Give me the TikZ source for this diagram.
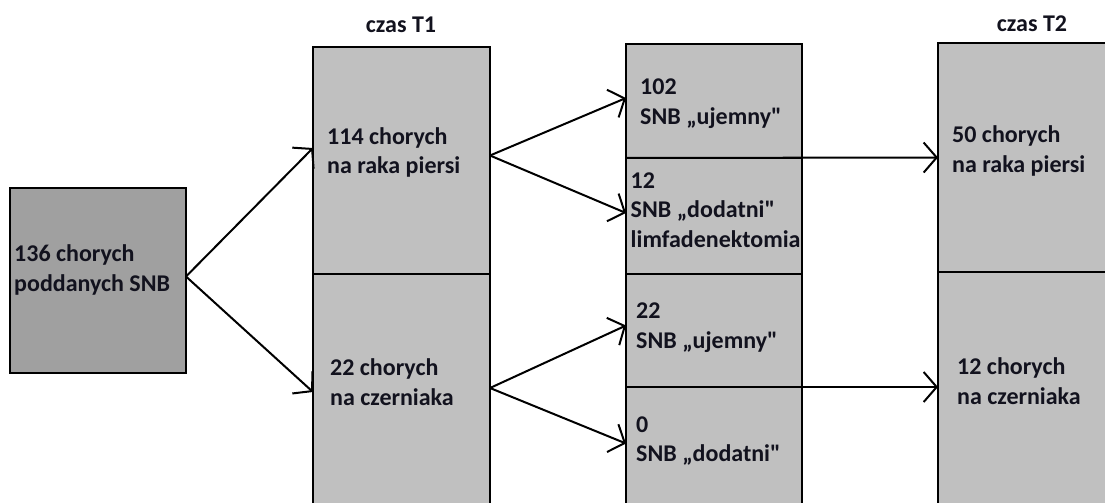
\documentclass[tikz,border=0pt]{standalone}
\usepackage{fontspec}
\setmainfont{Carlito}[Ligatures=TeXOff]
\usetikzlibrary{arrows.meta}
\definecolor{darkbox}{RGB}{160,160,160}
\definecolor{lightbox}{RGB}{192,192,192}
\definecolor{textcol}{RGB}{18,18,30}
\begin{document}
\begin{tikzpicture}[x=1pt,y=-1pt,
  box/.style={draw=black,line width=2pt,fill=lightbox,inner sep=0pt,outer sep=0pt},
  txt/.style={anchor=west,align=left,inner sep=0pt,text=textcol,font=\bfseries\fontsize{24}{29.5}\selectfont},
  ttl/.style={anchor=base,inner sep=0pt,text=textcol,font=\bfseries\fontsize{24}{29}\selectfont},
  arr/.style={line width=2pt,-{Straight Barb[length=13pt,width=30pt,line width=2pt]}}]
\useasboundingbox (0,0) rectangle (1105,503);
\fill[white] (0,0) rectangle (1105,503);
\clip (0,0) rectangle (1105,503);
% boxes
\node[box,fill=darkbox,minimum width=176pt,minimum height=185pt] (A) at (98,280.5) {};
\node[box,minimum width=177pt,minimum height=227pt] (T1a) at (401.5,160.5) {};
\node[box,minimum width=177pt,minimum height=236pt] (T1b) at (401.5,392) {};
\node[box,minimum width=176pt,minimum height=114pt] (M1) at (714,101) {};
\node[box,minimum width=176pt,minimum height=116pt] (M2) at (714,216) {};
\node[box,minimum width=176pt,minimum height=113pt] (M3) at (714,330.5) {};
\node[box,minimum width=176pt,minimum height=123pt] (M4) at (714,448.5) {};
\node[box,minimum width=172pt,minimum height=229pt] (R1) at (1024,157.5) {};
\node[box,minimum width=172pt,minimum height=238pt] (R2) at (1024,391) {};
% titles
\node[ttl] (tT1) at (401,33) {czas T1};
\node[ttl] (tT2) at (1032,32) {czas T2};
% texts
\node[txt] (tA) at (14,270) {136 chorych\\poddanych SNB};
\node[txt] (tT1a) at (327,152.5) {114 chorych\\na raka piersi};
\node[txt] (tT1b) at (330,382) {22 chorych\\na czerniaka};
\node[txt] (tM1) at (640,103.5) {102\\SNB „ujemny"};
\node[txt] (tM2) at (630.5,210) {12\\SNB „dodatni"\\limfadenektomia};
\node[txt] (tM3) at (636,327.5) {22\\SNB „ujemny"};
\node[txt] (tM4) at (636,441) {0\\SNB „dodatni"};
\node[txt] (tR1) at (952,151) {50 chorych\\na raka piersi};
\node[txt] (tR2) at (957,381) {12 chorych\\na czerniaka};
% connectors
\draw[arr] ([yshift=4pt]A.east) -- ([yshift=12.5pt]T1a.west);
\draw[arr] ([yshift=4pt]A.east) -- (T1b.west);
\draw[arr] ([yshift=5pt]T1a.east) -- ([yshift=3pt]M1.west);
\draw[arr] ([yshift=5pt]T1a.east) -- ([yshift=3pt]M2.west);
\draw[arr] ([yshift=4pt]T1b.east) -- ([yshift=5pt]M3.west);
\draw[arr] ([yshift=4pt]T1b.east) -- ([yshift=5pt]M4.west);
\draw[arr] (M1.south west) -- (R1.west);
\draw[arr] (M3.south east) -- (M3.south east -| R2.west);
\end{tikzpicture}
\end{document}
